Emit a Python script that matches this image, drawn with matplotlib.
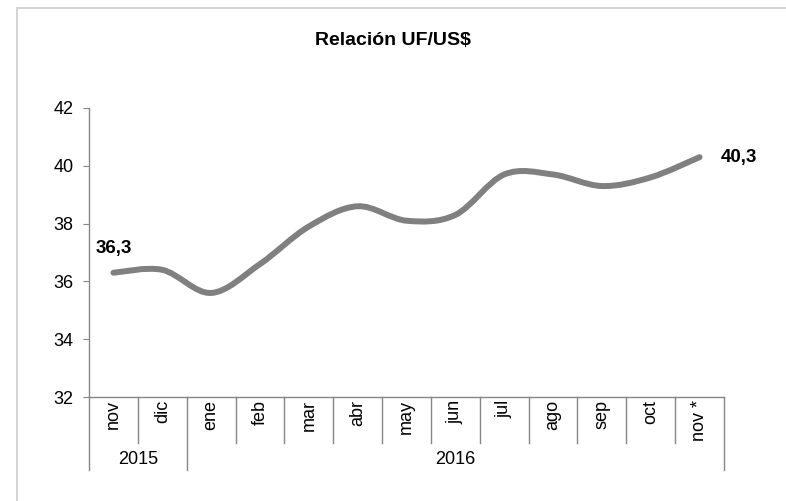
import matplotlib
matplotlib.use("Agg")
import matplotlib.pyplot as plt
from matplotlib.path import Path
from matplotlib.patches import PathPatch, Rectangle
import matplotlib.transforms as mtransforms
import numpy as np

plt.rcParams['font.family'] = ['Liberation Sans', 'DejaVu Sans']

months = ["nov", "dic", "ene", "feb", "mar", "abr", "may", "jun", "jul", "ago", "sep", "oct", "nov *"]
years = ["2015", "2016"]
year_counts = [2, 11]
values = [36.3, 36.4, 35.6, 36.6, 37.9, 38.6, 38.1, 38.3, 39.7, 39.7, 39.3, 39.6, 40.3]
title = "Relación UF/US$"
yticks = [32, 34, 36, 38, 40, 42]

W, H = 786, 501
fig = plt.figure(figsize=(W / 100, H / 100), dpi=100)
ax = fig.add_axes([89 / W, 1 - 397 / H, (724 - 89) / W, (397 - 108) / H])

# outer chart border
fig.patches.append(Rectangle((17 / W, -0.01), 1.0, 1 - 8 / H + 0.01, transform=fig.transFigure,
                             fill=False, edgecolor="#d4d4d4", linewidth=1.5))

x = np.arange(len(values))
y = np.array(values)

# smoothed line (Bezier, Excel-like)
verts = [(x[0], y[0])]
codes = [Path.MOVETO]
n = len(x)
for i in range(n - 1):
    p0 = np.array([x[max(i - 1, 0)], y[max(i - 1, 0)]])
    p1 = np.array([x[i], y[i]])
    p2 = np.array([x[i + 1], y[i + 1]])
    p3 = np.array([x[min(i + 2, n - 1)], y[min(i + 2, n - 1)]])
    c1 = p1 + (p2 - p0) / 6.0
    c2 = p2 - (p3 - p1) / 6.0
    verts += [tuple(c1), tuple(c2), tuple(p2)]
    codes += [Path.CURVE4] * 3
ax.add_patch(PathPatch(Path(verts, codes), facecolor="none", edgecolor="#808080",
                       linewidth=4.3, capstyle="round", joinstyle="round"))

ax.set_xlim(-0.5, n - 0.5)
ax.set_ylim(32, 42)
ax.set_yticks(yticks)
ax.set_yticklabels([str(t) for t in yticks], fontsize=13)
ax.tick_params(axis="y", direction="out", length=4, color="#868686", pad=7)
ax.set_xticks([])
for s in ["top", "right"]:
    ax.spines[s].set_visible(False)
for s in ["left", "bottom"]:
    ax.spines[s].set_color("#868686")
    ax.spines[s].set_linewidth(1.0)

# data labels
ax.annotate(f"{values[0]:.1f}".replace(".", ","), (x[0], y[0]), xytext=(0, 14.5),
            textcoords="offset points", ha="center", va="baseline",
            fontsize=13.5, fontweight="bold")
ax.annotate(f"{values[-1]:.1f}".replace(".", ","), (x[-1], y[-1]), xytext=(15, 0),
            textcoords="offset points", ha="left", va="center",
            fontsize=13.5, fontweight="bold")

# category axis with month and year labels
trans = mtransforms.blended_transform_factory(ax.transData, fig.transFigure)
y_axis = 1 - 397 / H
y_month_sep = 1 - 443 / H
y_year_sep = 1 - 470 / H
year_edges = np.concatenate([[0], np.cumsum(year_counts)]) - 0.5
for b in np.arange(n + 1) - 0.5:
    bottom = y_year_sep if np.any(np.isclose(year_edges, b)) else y_month_sep
    ax.plot([b, b], [y_axis, bottom], color="#868686", linewidth=1.0,
            transform=trans, clip_on=False)
for i, m in enumerate(months):
    ax.text(x[i], 1 - 400 / H, m, rotation=90, ha="center", va="top",
            fontsize=13, transform=trans)
for k, yr in enumerate(years):
    c = (year_edges[k] + year_edges[k + 1]) / 2
    ax.text(c, 1 - 459 / H, yr, ha="center", va="center", fontsize=13, transform=trans)

fig.text(393 / W, 1 - 41 / H, title, ha="center", va="center",
         fontsize=14, fontweight="bold")

fig.savefig("out.png", dpi=100)
